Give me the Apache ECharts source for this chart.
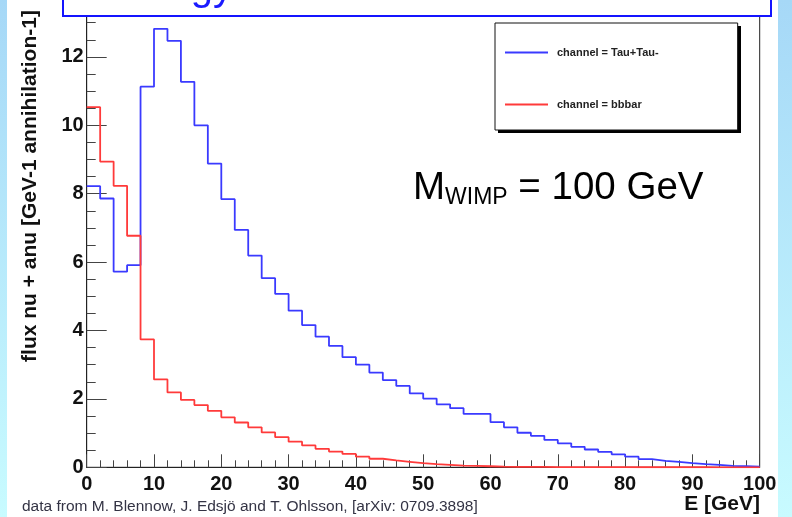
<!DOCTYPE html>
<html>
<head>
<meta charset="utf-8">
<script src="https://cdn.jsdelivr.net/npm/echarts@6/dist/echarts.min.js"></script>
<style>html,body{margin:0;padding:0;background:#fff;}#c{width:792px;height:517px;}</style>
</head>
<body>
<div id="c"></div>
<script>
// Histogram: 50 bins of 2 GeV from 0 to 100 GeV
const binWidth = 2;
const seriesNames = ['channel = Tau+Tau-', 'channel = bbbar'];
const tauValues = [8.22, 7.86, 5.72, 5.91, 11.13, 12.82, 12.47, 11.27, 10.0, 8.88,
  7.84, 6.94, 6.19, 5.53, 5.07, 4.58, 4.16, 3.82, 3.55, 3.22,
  3.0, 2.77, 2.55, 2.38, 2.16, 2.01, 1.84, 1.73, 1.56, 1.56,
  1.32, 1.17, 1.01, 0.92, 0.80, 0.70, 0.60, 0.52, 0.45, 0.38,
  0.31, 0.24, 0.19, 0.16, 0.12, 0.09, 0.07, 0.04, 0.03, 0.02];
const bbValues = [10.53, 8.94, 8.23, 6.77, 3.74, 2.57, 2.19, 1.97, 1.82, 1.65,
  1.46, 1.31, 1.17, 1.02, 0.88, 0.75, 0.64, 0.54, 0.46, 0.39,
  0.31, 0.25, 0.20, 0.16, 0.12, 0.09, 0.07, 0.05, 0.04, 0.03,
  0.02, 0.015, 0.012, 0.01, 0.008, 0.006, 0.005, 0.004, 0.003, 0.003,
  0.002, 0.002, 0.001, 0.001, 0.001, 0.001, 0, 0, 0, 0];
const xTickLabels = ['0','10','20','30','40','50','60','70','80','90','100'];
const yTickLabels = ['0','2','4','6','8','10','12'];

function toSteps(vals) {
  const pts = vals.map((v, i) => [i * binWidth, v]);
  pts.push([vals.length * binWidth, vals[vals.length - 1]]);
  return pts;
}

const FONT = '"Liberation Sans", Arial, Helvetica, sans-serif';
const chart = echarts.init(document.getElementById('c'), null, {renderer: 'canvas'});
const bgGrad = new echarts.graphic.LinearGradient(0, 0, 0, 1, [
  {offset: 0, color: '#a6d8f7'}, {offset: 1, color: '#c8fbff'}]);

chart.setOption({
  backgroundColor: '#ffffff',
  animation: false,
  grid: {left: 86.7, right: 32.3, top: 5.6, bottom: 49.7, show: true,
    backgroundColor: '#fff', borderColor: '#222', borderWidth: 1},
  xAxis: {
    type: 'value', min: 0, max: 100, interval: 10,
    axisLine: {onZero: false, lineStyle: {color: '#222', width: 1}},
    axisTick: {inside: true, length: 13, lineStyle: {color: '#444', width: 1}},
    minorTick: {show: true, splitNumber: 5, length: 7, lineStyle: {color: '#444', width: 1}},
    splitLine: {show: false},
    axisLabel: {margin: 7, fontFamily: FONT, fontSize: 20, fontWeight: 'bold', color: '#111',
      formatter: v => xTickLabels[Math.round(v / 10)] ?? ''}
  },
  yAxis: {
    type: 'value', min: 0, max: 13.5, interval: 2,
    axisLine: {show: true, lineStyle: {color: '#222', width: 1}},
    axisTick: {inside: true, length: 20, lineStyle: {color: '#444', width: 1}},
    minorTick: {show: true, splitNumber: 4, length: 9, lineStyle: {color: '#444', width: 1}},
    splitLine: {show: false},
    axisLabel: {margin: 3, fontFamily: FONT, fontSize: 20, fontWeight: 'bold', color: '#111',
      showMaxLabel: false,
      formatter: v => (Number.isInteger(v / 2) ? (yTickLabels[v / 2] ?? '') : '')}
  },
  legend: {
    orient: 'vertical', left: 495, top: 23, z: 20,
    itemWidth: 43, itemHeight: 2, itemGap: 41, icon: 'rect',
    padding: [24, 79, 20, 10],
    backgroundColor: '#fff', borderColor: '#111', borderWidth: 1,
    selectedMode: false,
    textStyle: {fontFamily: FONT, fontSize: 11, fontWeight: 'bold', color: '#222', padding: [0, 0, 0, 4]},
    data: seriesNames
  },
  series: [
    {name: seriesNames[0], type: 'line', step: 'end', symbol: 'none', color: '#3a3aff',
      lineStyle: {color: '#3a3aff', width: 1.8}, data: toSteps(tauValues), z: 3},
    {name: seriesNames[1], type: 'line', step: 'end', symbol: 'none', color: '#ff3a3a',
      lineStyle: {color: '#ff3a3a', width: 1.8}, data: toSteps(bbValues), z: 4}
  ],
  graphic: [
    {type: 'rect', z: -10, shape: {x: 0, y: 0, width: 7, height: 517}, style: {fill: bgGrad}},
    {type: 'rect', z: -10, shape: {x: 778, y: 0, width: 14, height: 517}, style: {fill: bgGrad}},
    {type: 'rect', z: 15, shape: {x: 498, y: 26, width: 243, height: 107}, style: {fill: '#000'}},
    {type: 'rect', z: 30, shape: {x: 63, y: -10, width: 708, height: 26},
      style: {fill: '#fff', stroke: '#1414ff', lineWidth: 2}},
    {type: 'text', z: 31, x: 233, y: 9,
      style: {text: 'Energy', font: '40px ' + FONT, fill: '#1a1aff',
        align: 'right', textAlign: 'right', verticalAlign: 'bottom', textVerticalAlign: 'bottom'}},
    {type: 'text', z: 10, x: 30, y: 186, rotation: Math.PI / 2,
      style: {text: 'flux nu + anu [GeV-1 annihilation-1]', font: 'bold 21px ' + FONT, fill: '#111',
        align: 'center', textAlign: 'center', verticalAlign: 'middle', textVerticalAlign: 'middle'}},
    {type: 'text', z: 10, x: 760, y: 504,
      style: {text: 'E [GeV]', font: 'bold 21px ' + FONT, fill: '#111',
        align: 'right', textAlign: 'right', verticalAlign: 'middle', textVerticalAlign: 'middle'}},
    {type: 'text', z: 10, x: 22, y: 507,
      style: {text: 'data from M. Blennow, J. Edsjö and T. Ohlsson, [arXiv: 0709.3898]',
        font: '15.5px ' + FONT, fill: '#333344',
        align: 'left', textAlign: 'left', verticalAlign: 'middle', textVerticalAlign: 'middle'}},
    {type: 'text', z: 10, x: 413, y: 166,
      style: {text: '{m|M}{s|WIMP}{m| = 100 GeV}', fill: '#000',
        align: 'left', textAlign: 'left', verticalAlign: 'top', textVerticalAlign: 'top',
        rich: {
          m: {fontFamily: FONT, fontSize: 38.5, lineHeight: 44, color: '#000'},
          s: {fontFamily: FONT, fontSize: 23, lineHeight: 23, verticalAlign: 'top', padding: [20, 0, 0, 0], color: '#000'}
        }}}
  ]
});
</script>
</body>
</html>
